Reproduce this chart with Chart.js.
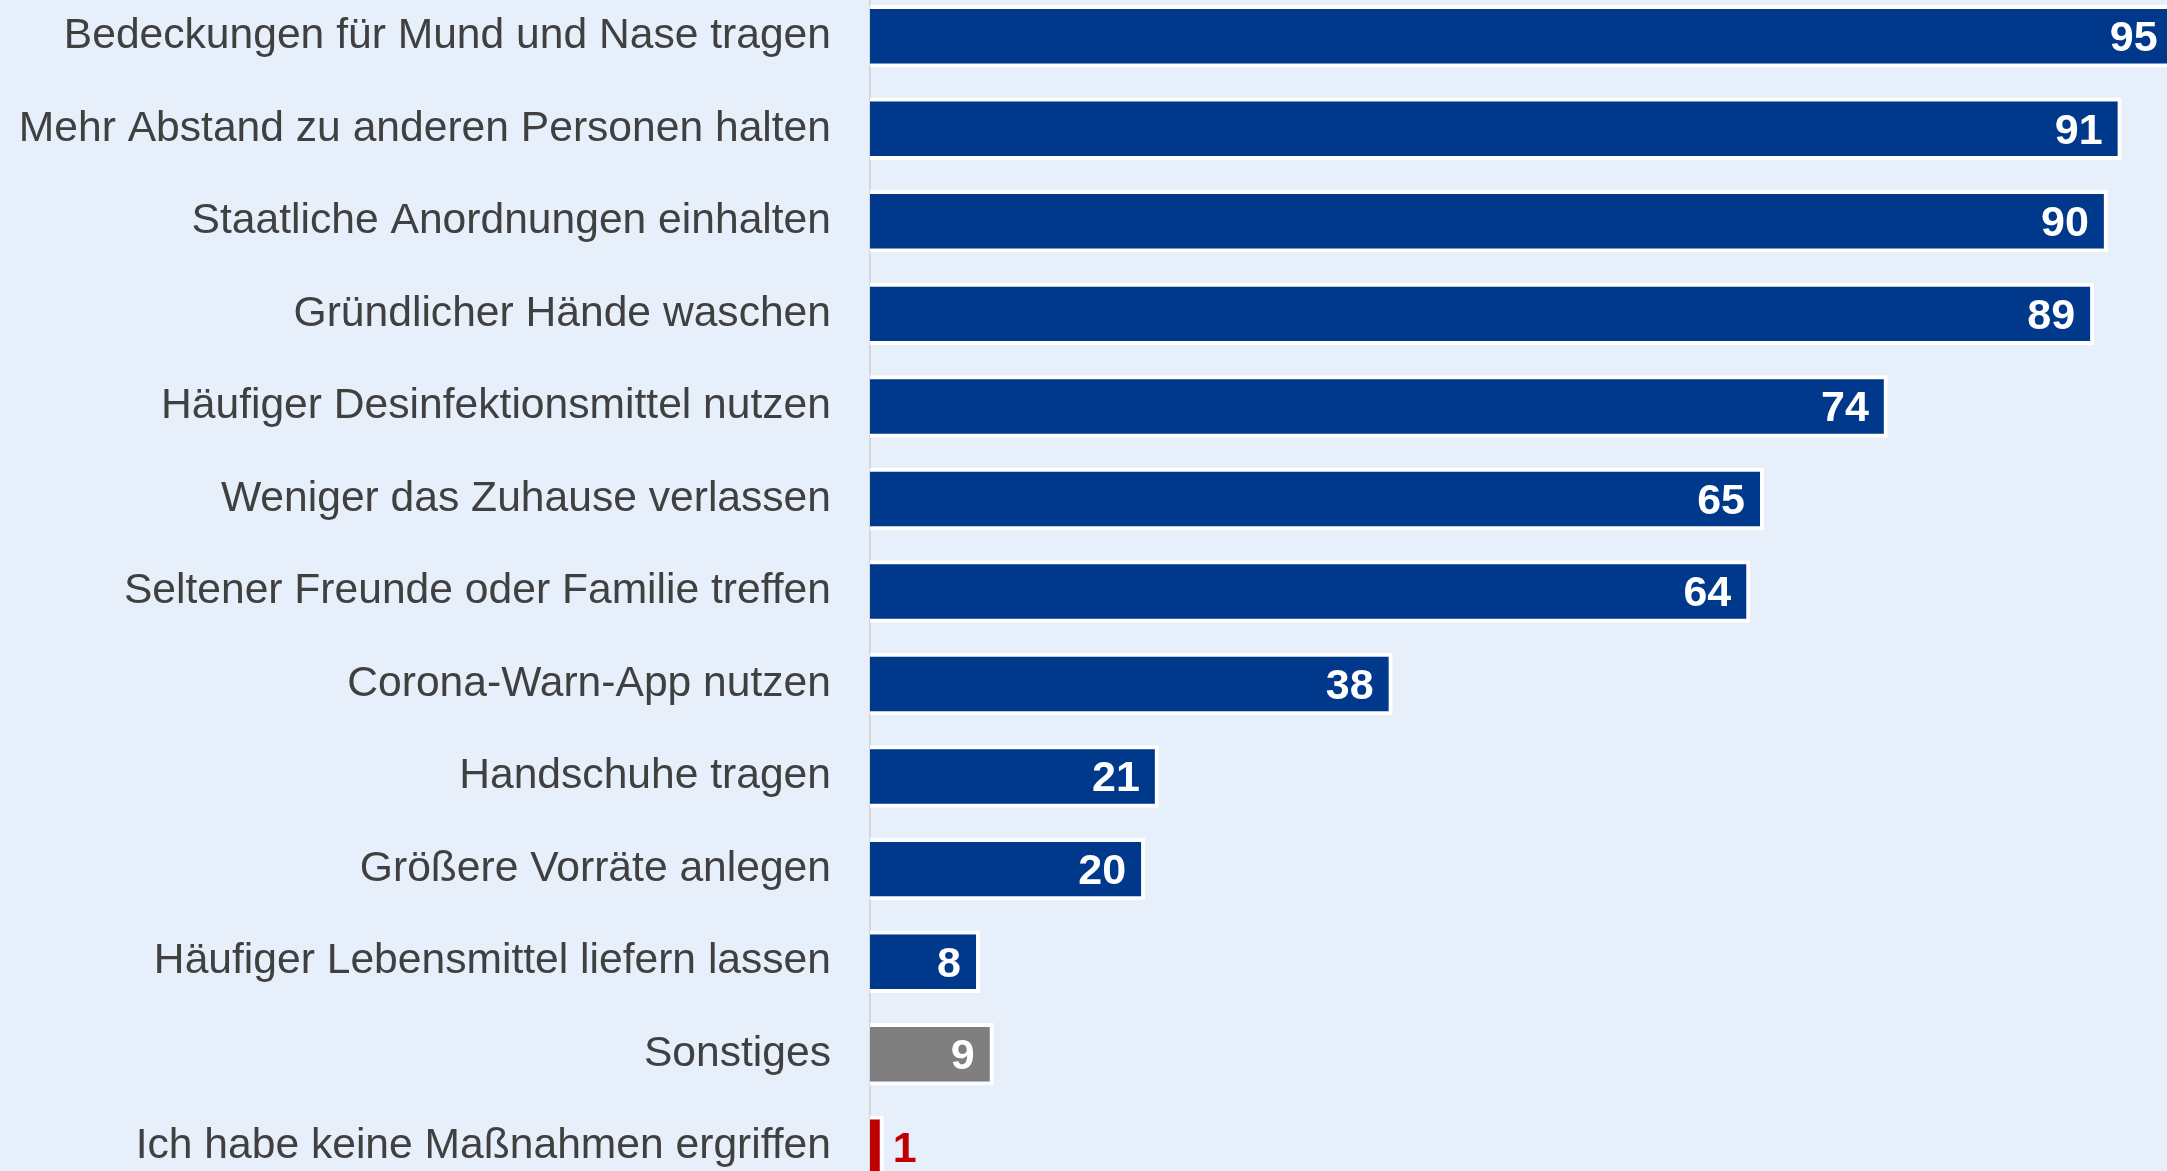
<!DOCTYPE html>
<html>
<head>
<meta charset="utf-8">
<script src="https://cdn.jsdelivr.net/npm/chart.js@4.4.1/dist/chart.umd.min.js"></script>
<style>
  html, body { margin: 0; padding: 0; width: 2167px; height: 1171px; overflow: hidden; background: #E6EFFA; }
  #wrap { position: absolute; left: 0; top: -10px; width: 2167px; height: 1203px; }
</style>
</head>
<body>
<div id="wrap"><canvas id="c" width="2167" height="1203"></canvas></div>
<script>
const categories = [
  "Bedeckungen für Mund und Nase tragen",
  "Mehr Abstand zu anderen Personen halten",
  "Staatliche Anordnungen einhalten",
  "Gründlicher Hände waschen",
  "Häufiger Desinfektionsmittel nutzen",
  "Weniger das Zuhause verlassen",
  "Seltener Freunde oder Familie treffen",
  "Corona-Warn-App nutzen",
  "Handschuhe tragen",
  "Größere Vorräte anlegen",
  "Häufiger Lebensmittel liefern lassen",
  "Sonstiges",
  "Ich habe keine Maßnahmen ergriffen"
];
const values = [95, 91, 90, 89, 74, 65, 64, 38, 21, 20, 8, 9, 1];
const barColors = ["#00388C","#00388C","#00388C","#00388C","#00388C","#00388C","#00388C","#00388C","#00388C","#00388C","#00388C","#7F7F7F","#C00000"];
const labelColors = ["#FFFFFF","#FFFFFF","#FFFFFF","#FFFFFF","#FFFFFF","#FFFFFF","#FFFFFF","#FFFFFF","#FFFFFF","#FFFFFF","#FFFFFF","#FFFFFF","#C00000"];
const labelInside = [true,true,true,true,true,true,true,true,true,true,true,true,false];

const valueLabels = {
  id: 'valueLabels',
  afterDatasetsDraw(chart) {
    const ctx = chart.ctx;
    const meta = chart.getDatasetMeta(0);
    ctx.save();
    ctx.font = "bold 43px 'Liberation Sans', Arial, sans-serif";
    ctx.textBaseline = 'middle';
    meta.data.forEach((bar, i) => {
      const txt = String(values[i]);
      ctx.fillStyle = labelColors[i];
      if (labelInside[i]) {
        ctx.textAlign = 'right';
        ctx.fillText(txt, bar.x - 19, bar.y + 3);
      } else {
        ctx.textAlign = 'left';
        ctx.fillText(txt, bar.x + 9, bar.y + 3);
      }
    });
    ctx.restore();
  }
};

new Chart(document.getElementById('c'), {
  type: 'bar',
  data: {
    labels: categories,
    datasets: [{
      data: values,
      backgroundColor: barColors,
      borderColor: '#FFFFFF',
      borderWidth: 4,
      borderSkipped: 'start',
      categoryPercentage: 1,
      barPercentage: 0.675
    }]
  },
  options: {
    indexAxis: 'y',
    responsive: false,
    devicePixelRatio: 1,
    animation: false,
    layout: { padding: 0 },
    plugins: { legend: { display: false }, tooltip: { enabled: false } },
    scales: {
      x: {
        display: false,
        min: 0,
        max: 94.3
      },
      y: {
        afterFit(scale) {
          scale.width = 870;
          scale.paddingTop = 0;
          scale.paddingBottom = 0;
        },
        grid: { display: false, drawTicks: false },
        border: { display: true, color: '#D4D8DD', width: 2 },
        ticks: {
          autoSkip: false,
          padding: 39,
          color: '#404040',
          font: { family: "'Liberation Sans', Arial, sans-serif", size: 42.6 }
        }
      }
    }
  },
  plugins: [valueLabels]
});
</script>
</body>
</html>
